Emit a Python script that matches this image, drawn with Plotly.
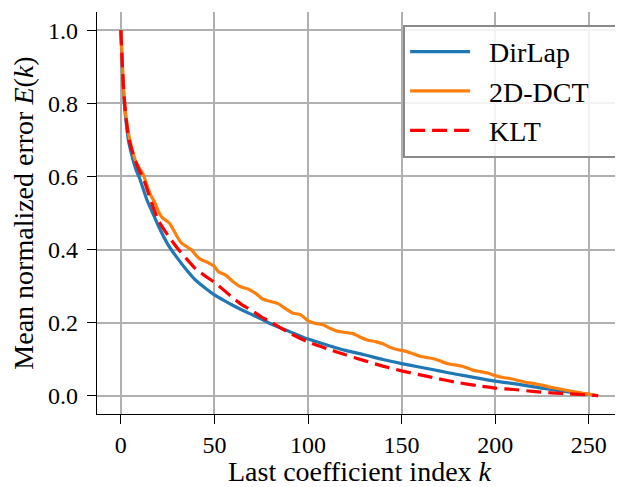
import plotly.graph_objects as go

# ---- data ----
dirlap_k = [0, 1, 2, 3, 4, 6, 8, 10, 12, 14, 17, 20, 25, 30, 35, 40, 45, 50, 55, 60, 65, 70, 75, 80,
            90, 100, 110, 120, 130, 140, 150, 160, 170, 180, 190, 200, 210, 220, 230, 240, 250, 255]
dirlap_e = [1.0, 0.87, 0.79, 0.74, 0.70, 0.655, 0.62, 0.595, 0.565, 0.535, 0.50, 0.465, 0.415, 0.378,
            0.345, 0.316, 0.295, 0.276, 0.261, 0.247, 0.234, 0.222, 0.21, 0.197, 0.176, 0.155, 0.139,
            0.124, 0.112, 0.099, 0.088, 0.078, 0.068, 0.058, 0.049, 0.040, 0.033, 0.025, 0.017, 0.010,
            0.004, 0.0]

dct_k = [0, 2, 4, 6, 8, 10, 12, 14, 16, 18, 20, 22, 24, 26, 28, 30, 32, 34, 36, 38, 40, 42, 44, 46, 48,
         50, 52, 56, 60, 64, 68, 72, 76, 80, 84, 88, 92, 96, 100, 104, 108, 112, 116, 120, 124, 128,
         132, 136, 140, 144, 148, 152, 156, 160, 164, 168, 172, 176, 180, 184, 188, 192, 196, 200,
         204, 208, 212, 216, 220, 224, 228, 232, 236, 240, 244, 248, 252, 255]
dct_e = [1.0, 0.80, 0.72, 0.675, 0.64, 0.622, 0.605, 0.575, 0.548, 0.530, 0.505, 0.488, 0.480, 0.472,
         0.455, 0.436, 0.420, 0.412, 0.405, 0.398, 0.385, 0.375, 0.370, 0.366, 0.360, 0.354, 0.340,
         0.330, 0.312, 0.298, 0.292, 0.280, 0.264, 0.258, 0.252, 0.238, 0.226, 0.222, 0.205, 0.198,
         0.194, 0.184, 0.176, 0.173, 0.170, 0.160, 0.152, 0.148, 0.142, 0.132, 0.126, 0.122, 0.115,
         0.108, 0.104, 0.100, 0.092, 0.086, 0.083, 0.078, 0.070, 0.066, 0.062, 0.055, 0.050, 0.047,
         0.042, 0.037, 0.034, 0.030, 0.025, 0.021, 0.017, 0.013, 0.009, 0.006, 0.003, 0.0]

klt_k = [0, 1, 2, 3, 4, 6, 8, 10, 12, 14, 17, 20, 25, 30, 35, 40, 45, 50, 55, 60, 65, 70, 75, 80,
         90, 100, 110, 120, 130, 140, 150, 160, 170, 180, 190, 200, 210, 220, 230, 240, 250, 255]
klt_e = [1.0, 0.88, 0.80, 0.75, 0.71, 0.67, 0.64, 0.615, 0.595, 0.565, 0.52, 0.48, 0.44, 0.405, 0.375,
         0.347, 0.328, 0.31, 0.289, 0.267, 0.248, 0.233, 0.216, 0.202, 0.172, 0.147, 0.129, 0.112,
         0.096, 0.081, 0.068, 0.057, 0.046, 0.036, 0.028, 0.021, 0.017, 0.012, 0.008, 0.005, 0.002, 0.0]

series_names = ["DirLap", "2D-DCT", "KLT"]
x_ticks = [0, 50, 100, 150, 200, 250]
y_ticks = [0.0, 0.2, 0.4, 0.6, 0.8, 1.0]
y_tick_text = ["0.0", "0.2", "0.4", "0.6", "0.8", "1.0"]

FONT = "Liberation Serif, DejaVu Serif, serif"
NB = "\u00a0"


def legend_label(s):
    return NB * 2 + s + NB * 3


fig = go.Figure()
fig.add_trace(go.Scatter(x=dirlap_k, y=dirlap_e, mode="lines", name=legend_label(series_names[0]),
                         legendgroup="a",
                         line=dict(color="#1f77b4", width=3.2, shape="spline", smoothing=0.6)))
fig.add_trace(go.Scatter(x=dct_k, y=dct_e, mode="lines", name=legend_label(series_names[1]),
                         legendgroup="b",
                         line=dict(color="#ff7f0e", width=3.2, shape="spline", smoothing=0.6)))
fig.add_trace(go.Scatter(x=klt_k, y=klt_e, mode="lines", name=legend_label(series_names[2]),
                         legendgroup="c",
                         line=dict(color="#ff0000", width=3.2, dash="15px,7px", shape="spline",
                                   smoothing=0.6)))

# the page body has an 8px default margin, so the figure is sized to fit the window
fig.update_layout(
    width=615, height=479,
    margin=dict(l=89, r=1, t=4, b=73, autoexpand=False),
    paper_bgcolor="white", plot_bgcolor="white",
    font=dict(family=FONT, size=24, color="black"),
    legend=dict(x=0.583, y=0.968, xanchor="left", yanchor="top",
                bgcolor="rgba(255,255,255,0.85)", bordercolor="#8a8a8a", borderwidth=2,
                font=dict(family=FONT, size=28), tracegroupgap=0, itemwidth=60),
    showlegend=True,
)
fig.update_xaxes(
    range=[-12.75, 267.75], tickmode="array", tickvals=x_ticks,
    showgrid=True, gridcolor="#b0b0b0", gridwidth=1.8,
    showline=True, linecolor="black", linewidth=1.4, mirror=False,
    ticks="outside", ticklen=9, tickcolor="black", tickwidth=1.4,
    zeroline=False, tickfont=dict(size=24), automargin=False,
    title=dict(text="Last coefficient index <i>k</i>", font=dict(size=28), standoff=4),
)
fig.update_yaxes(
    range=[-0.05, 1.05], tickmode="array", tickvals=y_ticks, ticktext=y_tick_text,
    showgrid=True, gridcolor="#b0b0b0", gridwidth=1.8,
    showline=True, linecolor="black", linewidth=1.4, mirror=False,
    ticks="outside", ticklen=9, tickcolor="black", tickwidth=1.4,
    zeroline=False, tickfont=dict(size=24), automargin=False,
    ticklabelstandoff=4,
    title=dict(text="Mean normalized error <i>E</i>(<i>k</i>)", font=dict(size=28), standoff=6),
)

fig.write_html("out.html")
